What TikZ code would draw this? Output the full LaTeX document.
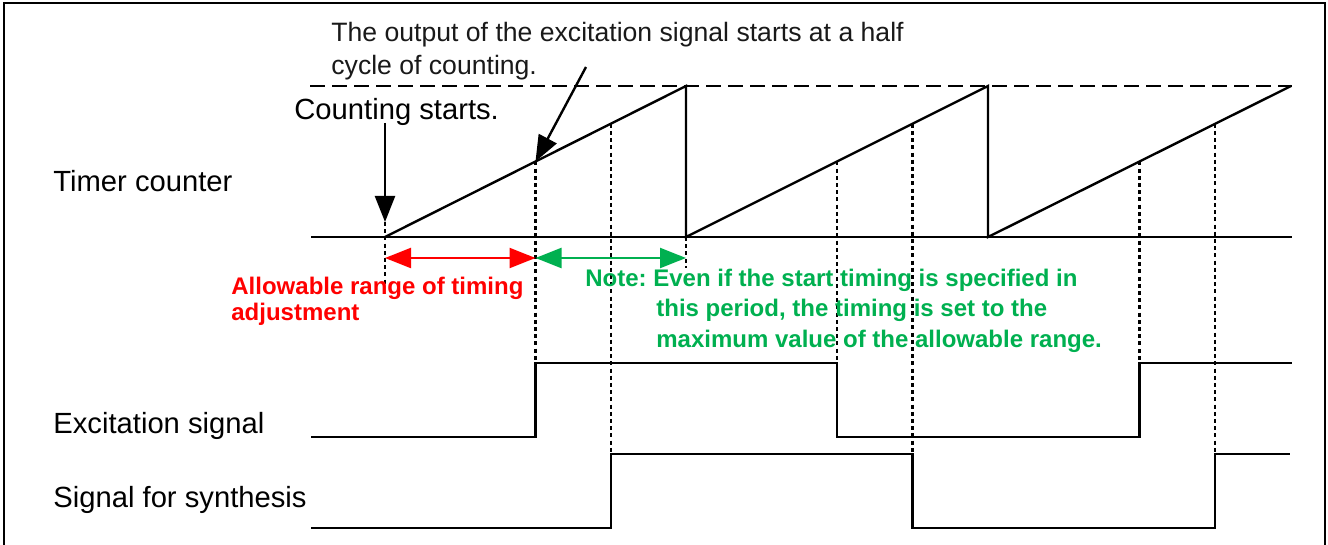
\documentclass[tikz,border=0pt]{standalone}
\usepackage{fontspec}
\setmainfont{Liberation Sans}
\usetikzlibrary{arrows.meta}
\frenchspacing
\definecolor{notegreen}{RGB}{0,176,80}
\definecolor{notered}{RGB}{255,0,0}
\tikzset{
  wave/.style={line width=1.2pt, line join=miter},
  dotline/.style={line width=1.2pt, dash pattern=on 2pt off 1.6pt},
  dashline/.style={line width=1pt, dash pattern=on 7.5pt off 3.5pt},
  bigarrow/.style={line width=1.2pt, -{Triangle[length=13pt,width=10pt]}},
  dblarrow/.style={line width=1.1pt, {Triangle[length=13pt,width=10pt]}-{Triangle[length=13pt,width=10pt]}},
  lbl/.style={anchor=base west, inner sep=0pt, font=\fontsize{14.6pt}{16pt}\selectfont},
  toplbl/.style={anchor=base west, inner sep=0pt, font=\fontsize{13.3pt}{15pt}\selectfont, text=black!90},
  rednote/.style={anchor=base west, inner sep=0pt, text=notered, font=\bfseries\fontsize{12pt}{14pt}\selectfont},
  greennote/.style={anchor=base west, inner sep=0pt, text=notegreen, font=\bfseries\fontsize{12pt}{14pt}\selectfont},
}
\begin{document}
\begin{tikzpicture}[x=0.5pt,y=-0.5pt]
\useasboundingbox (0,0) rectangle (1328,545);
% frame
\draw[line width=1.3pt] (4,560) -- (4,3) -- (1325,3) -- (1325,560);

% key coordinates
\coordinate (b0) at (385,237);
\coordinate (t1) at (686,86);
\coordinate (b1) at (686,237);
\coordinate (t2) at (988,86);
\coordinate (b2) at (988,237);
\coordinate (t3) at (1291,86);
\coordinate (h1) at (535.5,161.5);
\coordinate (q1) at (610.75,123.75);
\coordinate (h2) at (837,161.5);
\coordinate (q2) at (912.5,123.75);
\coordinate (h3) at (1139.5,161.5);
\coordinate (q3) at (1215,123.75);

% axes of timer counter
\coordinate (axl) at (311,237);
\coordinate (axr) at (1292,237);
\coordinate (dsl) at (310,86);
\coordinate (dsr) at (1292,86);
\draw[line width=1.1pt] (axl) -- (axr);
\draw[dashline] (dsl) -- (dsr);

% sawtooth
\draw[wave] (b0) -- (t1) -- (b1) -- (t2) -- (b2) -- (t3);

% dotted markers
\coordinate (d0a) at (385,222);
\coordinate (d0b) at (385,284);
\coordinate (dmb) at (686,268);
\draw[dotline] (d0a) -- (d0b);
\draw[dotline] (b1) -- (dmb);
\draw[dotline] (h1) -- (h1 |- 0,363);
\draw[dotline] (q1) -- (q1 |- 0,454);
\draw[dotline] (h2) -- (h2 |- 0,363);
\draw[dotline] (q2) -- (q2 |- 0,454);
\draw[dotline] (h3) -- (h3 |- 0,363);
\draw[dotline] (q3) -- (q3 |- 0,454);

% excitation signal
\draw[wave] (311,437) -- (h1 |- 0,437) -- (h1 |- 0,363) -- (h2 |- 0,363) -- (h2 |- 0,437)
  -- (h3 |- 0,437) -- (h3 |- 0,363) -- (1292,363);
% signal for synthesis
\draw[wave] (311,528) -- (q1 |- 0,528) -- (q1 |- 0,454) -- (q2 |- 0,454) -- (q2 |- 0,528)
  -- (q3 |- 0,528) -- (q3 |- 0,454) -- (1290,454);

% labels
\node[lbl] (ltc) at (53,192) {Timer counter};
\node[lbl] (lex) at (53,433) {Excitation signal};
\node[lbl] (lsy) at (53,507) {Signal for synthesis};
\node[lbl] (lcs) at (294,120) {Counting starts.};
\node[toplbl] (lout1) at (331,42) {The output of the excitation signal starts at a half};
\node[toplbl] (lout2) at (331,75) {cycle of counting.};

% arrows
\coordinate (acs) at (385,123);
\coordinate (aout) at (586,67);
\draw[bigarrow] (acs) -- (d0a);
\draw[bigarrow] (aout) -- (h1);

\coordinate (ra) at (385,258);
\coordinate (rb) at (535.5,258);
\coordinate (gb) at (686,258);
\draw[dblarrow, draw=notered, fill=notered] (ra) -- (rb);
\draw[dblarrow, draw=notegreen, fill=notegreen] (rb) -- (gb);

% notes
\node[rednote] (r1) at (231,294) {Allowable range of timing};
\node[rednote] (r2) at (231,321) {adjustment};
\node[greennote] (g1) at (585,287) {Note: Even if the start timing is specified in};
\node[greennote] (g2) at (656,317) {this period, the timing is set to the};
\node[greennote] (g3) at (656,347) {maximum value of the allowable range.};
\end{tikzpicture}
\end{document}
